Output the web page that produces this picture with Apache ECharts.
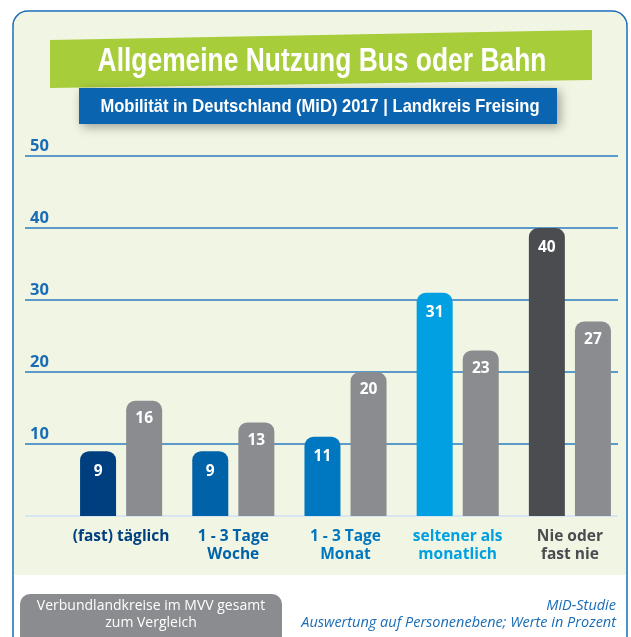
<!DOCTYPE html>
<html>
<head>
<meta charset="utf-8">
<script src="https://cdn.jsdelivr.net/npm/echarts@6/dist/echarts.min.js"></script>
<style>
  html, body { margin: 0; padding: 0; background: #ffffff; }
  #chart { width: 631px; height: 637px; }
</style>
</head>
<body>
<div id="chart"></div>
<script>
const categories = ["(fast) täglich", "1 - 3 Tage\nWoche", "1 - 3 Tage\nMonat", "seltener als\nmonatlich", "Nie oder\nfast nie"];
const freisingValues = [9, 9, 11, 31, 40];
const mvvValues = [16, 13, 20, 23, 27];
const yTicks = [0, 10, 20, 30, 40, 50];

const catColors = ["#003f7f", "#0062a8", "#0078c1", "#00a0e2", "#4b4c4f"];
const grey = "#8b8c90";
const blue = "#1a6db5";

const myChart = echarts.init(document.getElementById("chart"));

const rich = {};
catColors.forEach((c, i) => {
  rich["c" + i] = { color: c, fontSize: 15.5, fontWeight: "bold", fontFamily: "Open Sans", lineHeight: 18, align: "center" };
});

myChart.setOption({
  animation: false,
  graphic: [
    // frame + background
    { type: "rect", z: -10, shape: { x: 13, y: 11, width: 614, height: 650, r: 15 },
      style: { fill: "#ffffff", stroke: blue, lineWidth: 1.5 } },
    { type: "rect", z: -9, shape: { x: 14, y: 12, width: 612, height: 563, r: [14, 14, 0, 0] },
      style: { fill: "#f1f5e3" } },
    // green title banner
    { type: "polygon", z: 5, shape: { points: [[50, 40], [592, 30], [592, 80], [50, 88]] },
      style: { fill: "#a7cd3b" } },
    { type: "text", z: 6, x: 322, y: 62, scaleX: 0.8,
      style: { text: "Allgemeine Nutzung Bus oder Bahn", fill: "#ffffff", font: "bold 33px 'Liberation Sans', sans-serif",
        textAlign: "center", textVerticalAlign: "middle" } },
    // blue subtitle box
    { type: "rect", z: 5, shape: { x: 79, y: 88, width: 478, height: 36 },
      style: { fill: "#0a64b0", shadowBlur: 10, shadowColor: "rgba(0,0,0,0.35)", shadowOffsetX: 3, shadowOffsetY: 3 } },
    { type: "text", z: 6, x: 320, y: 107, scaleX: 0.87,
      style: { text: "Mobilität in Deutschland (MiD) 2017 | Landkreis Freising", fill: "#ffffff", font: "bold 19px 'Liberation Sans', sans-serif",
        textAlign: "center", textVerticalAlign: "middle" } },
    // legend box
    { type: "rect", z: 5, shape: { x: 20, y: 594, width: 262, height: 60, r: 10 },
      style: { fill: grey } },
    { type: "text", z: 6, x: 151, y: 615,
      style: { text: "Verbundlandkreise im MVV gesamt\nzum Vergleich", fill: "#ffffff", font: "14px 'Open Sans', sans-serif",
        textAlign: "center", textVerticalAlign: "middle", lineHeight: 17 } },
    // source note
    { type: "text", z: 6, x: 616, y: 614,
      style: { text: "MiD-Studie\nAuswertung auf Personenebene; Werte in Prozent", fill: blue, font: "italic 14.5px 'Open Sans', sans-serif",
        textAlign: "right", textVerticalAlign: "middle", lineHeight: 17 } }
  ],
  grid: [
    { left: 65, right: 5, top: 156, bottom: 121 },
    { left: 25, right: 13, top: 156, bottom: 121 }
  ],
  xAxis: [
    {
      type: "category", gridIndex: 0, data: categories,
      axisLine: { show: false }, axisTick: { show: false },
      axisLabel: {
        margin: 12, interval: 0,
        formatter: (v, i) => v.split("\n").map(s => "{c" + i + "|" + s + "}").join("\n"),
        rich: rich
      }
    },
    {
      type: "value", gridIndex: 1, min: 0, max: 1,
      axisLine: { show: true, onZero: false, lineStyle: { color: "#ffffff", width: 1.5 } },
      axisTick: { show: false }, axisLabel: { show: false }, splitLine: { show: false }
    }
  ],
  yAxis: [
    { type: "value", gridIndex: 0, min: 0, max: 50, interval: 10, show: false, splitLine: { show: false } },
    {
      type: "value", gridIndex: 1, min: 0, max: 50, interval: 10,
      axisLine: { show: false }, axisTick: { show: false },
      splitLine: { lineStyle: { color: "#2a7bc2", width: 1.5 } },
      axisLabel: {
        inside: true, margin: 5, verticalAlign: "bottom", padding: [0, 0, 1, 0],
        color: blue, fontSize: 16.5, fontWeight: "bold", fontFamily: "Open Sans",
        formatter: v => (v === 0 ? "" : String(v))
      }
    }
  ],
  series: [
    {
      type: "bar", xAxisIndex: 0, yAxisIndex: 0, z: 3,
      barWidth: 36, barGap: "28%",
      data: freisingValues.map((v, i) => ({ value: v, itemStyle: { color: catColors[i] } })),
      itemStyle: { borderRadius: [9, 9, 0, 0] },
      label: { show: true, position: "insideTop", distance: 12, color: "#ffffff", fontSize: 15.5, fontWeight: "bold", fontFamily: "Open Sans" }
    },
    {
      type: "bar", xAxisIndex: 0, yAxisIndex: 0, z: 3,
      barWidth: 36, barGap: "28%",
      data: mvvValues,
      itemStyle: { color: grey, borderRadius: [9, 9, 0, 0] },
      label: { show: true, position: "insideTop", distance: 10, color: "#ffffff", fontSize: 15.5, fontWeight: "bold", fontFamily: "Open Sans" }
    }
  ]
});
</script>
</body>
</html>
